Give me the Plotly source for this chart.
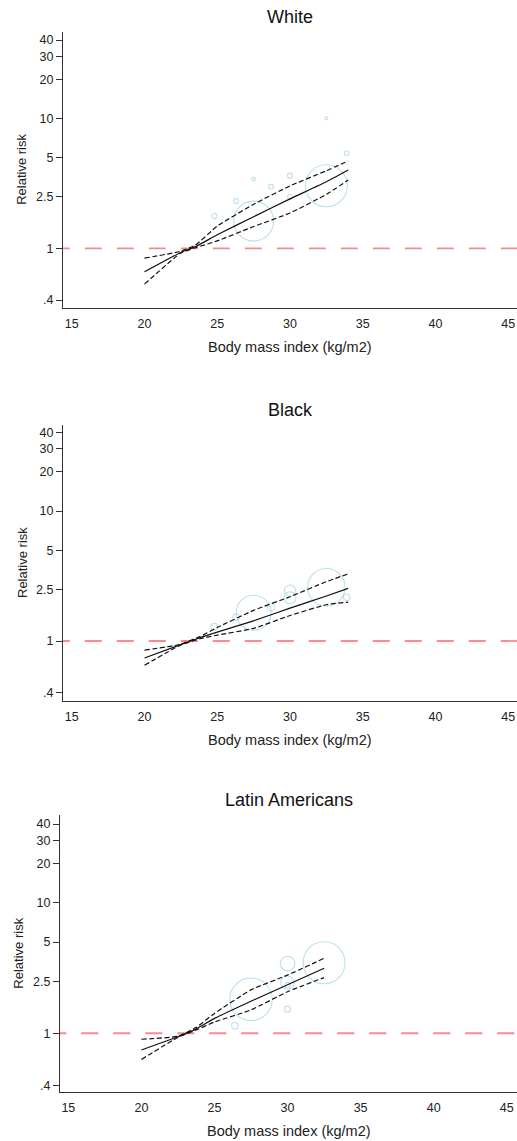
import plotly.graph_objects as go

W, H = 517, 1141
FONT = "Liberation Sans, Arial, sans-serif"

# ---------------- data ----------------
groups = ["White", "Black", "Latin Americans"]

# study-level relative risks (bubbles), with relative weights
white_bmi = [24.8, 26.3, 27.5, 28.7, 30.0, 30.0, 27.5, 32.5, 33.9, 32.5]
white_rr = [1.77, 2.31, 3.41, 2.98, 3.62, 2.49, 1.62, 3.03, 5.38, 10.0]
white_wt = [1.6, 1.6, 0.7, 1.3, 1.6, 1.3, 100, 110, 1.3, 0.6]

black_bmi = [24.8, 26.3, 27.5, 28.7, 30.0, 30.0, 32.5, 33.9]
black_rr = [1.29, 1.52, 1.65, 1.82, 2.44, 2.15, 2.59, 2.17]
black_wt = [2.7, 2.7, 77, 3.4, 8.1, 9.0, 88, 2.7]

latin_bmi = [26.4, 27.5, 30.0, 30.0, 30.0, 30.0, 32.5]
latin_rr = [1.14, 1.82, 3.42, 2.44, 2.34, 1.53, 3.47]
latin_wt = [2.7, 113, 13.3, 11.2, 1.8, 2.25, 110]

# pooled dose-response curve with 95% confidence limits
white_fit_bmi = [20, 22.5, 23.5, 25, 27.5, 30, 32.5, 34]
white_fit = [0.66, 0.93, 1.03, 1.27, 1.75, 2.4, 3.25, 4.0]
white_hi = [0.84, 0.95, 1.06, 1.48, 2.18, 3.02, 3.95, 4.7]
white_lo = [0.53, 0.92, 1.01, 1.14, 1.47, 1.87, 2.6, 3.35]

black_fit_bmi = [20, 22.4, 23.8, 25, 27.5, 30, 32.5, 34]
black_fit = [0.74, 0.93, 1.06, 1.17, 1.43, 1.79, 2.22, 2.54]
black_hi = [0.85, 0.94, 1.08, 1.27, 1.72, 2.19, 2.86, 3.28]
black_lo = [0.65, 0.92, 1.04, 1.11, 1.25, 1.57, 1.9, 1.99]

latin_fit_bmi = [20, 22.5, 23.75, 25, 27.5, 30, 32.5]
latin_fit = [0.745, 0.94, 1.08, 1.3, 1.76, 2.35, 3.15]
latin_hi = [0.90, 0.95, 1.11, 1.42, 2.15, 2.79, 3.75]
latin_lo = [0.63, 0.93, 1.06, 1.22, 1.51, 2.08, 2.67]

y_tickvals = [0.4, 1, 2.5, 5, 10, 20, 30, 40]
y_ticktext = [".4", "1", "2.5", "5", "10", "20", "30", "40"]
x_tickvals = [15, 20, 25, 30, 35, 40, 45]
x_title = "Body mass index (kg/m2)"
y_title = "Relative risk"

panels = [
    dict(name=groups[0], bmi=white_bmi, rr=white_rr, wt=white_wt,
         fx=white_fit_bmi, fy=white_fit, hi=white_hi, lo=white_lo),
    dict(name=groups[1], bmi=black_bmi, rr=black_rr, wt=black_wt,
         fx=black_fit_bmi, fy=black_fit, hi=black_hi, lo=black_lo),
    dict(name=groups[2], bmi=latin_bmi, rr=latin_rr, wt=latin_wt,
         fx=latin_fit_bmi, fy=latin_fit, hi=latin_hi, lo=latin_lo),
]

# ---------------- layout geometry (pixels) ----------------
# left edge of plot area, top and bottom of plot area
geom = [
    dict(left=63, top=31.7, bottom=308, xr=[14.40, 45.6], yr=[-0.459, 1.666]),
    dict(left=63, top=425, bottom=701, xr=[14.40, 45.6], yr=[-0.4615, 1.6615]),
    dict(left=60, top=815, bottom=1092.3, xr=[14.43, 45.7], yr=[-0.452, 1.6715]),
]

BUBBLE = "#a3d3e5"
RED = "rgba(255,40,40,0.55)"

fig = go.Figure()
layout = dict(
    width=W, height=H,
    margin=dict(l=0, r=0, t=0, b=0),
    paper_bgcolor="white", plot_bgcolor="white",
    showlegend=False,
    font=dict(family=FONT, color="#222"),
    annotations=[],
)

for i, (p, g) in enumerate(zip(panels, geom)):
    k = "" if i == 0 else str(i + 1)
    xa, ya = "x" + k, "y" + k

    # reference line at RR = 1
    fig.add_trace(go.Scatter(
        x=[13.7, 46.5], y=[1, 1], xaxis=xa, yaxis=ya, mode="lines",
        line=dict(color=RED, width=1.8, dash="17px,15px"), hoverinfo="skip"))

    # study bubbles, diameter proportional to sqrt(weight)
    sizes = [4.0 * (w ** 0.5) for w in p["wt"]]
    fig.add_trace(go.Scatter(
        x=p["bmi"], y=p["rr"], xaxis=xa, yaxis=ya, mode="markers",
        marker=dict(symbol="circle", size=sizes, color="rgba(0,0,0,0)",
                    line=dict(color=BUBBLE, width=1.1)),
        cliponaxis=False))

    # confidence limits and pooled curve
    for yy, dash in ((p["hi"], "5px,2.6px"), (p["lo"], "5px,2.6px"),
                     (p["fy"], "solid")):
        fig.add_trace(go.Scatter(
            x=p["fx"], y=yy, xaxis=xa, yaxis=ya, mode="lines",
            line=dict(color="#111", width=1.2, dash=dash,
                      shape="spline", smoothing=0.5)))

    x0 = g["left"] / W
    y0 = (H - g["bottom"]) / H
    y1 = (H - g["top"]) / H

    layout["xaxis" + k] = dict(
        domain=[x0, 1], anchor=ya, range=g["xr"],
        tickvals=x_tickvals, ticks="outside", ticklen=4,
        tickcolor="rgba(0,0,0,0)",
        tickfont=dict(size=12.5, family=FONT, color="#222"),
        showline=True, linecolor="#333", linewidth=1,
        showgrid=False, zeroline=False)
    layout["yaxis" + k] = dict(
        domain=[y0, y1], anchor=xa, type="log", range=g["yr"],
        tickvals=y_tickvals, ticktext=y_ticktext,
        ticks="outside", ticklen=6, tickcolor="#333", tickwidth=1,
        tickfont=dict(size=12.5, family=FONT, color="#222"),
        showline=True, linecolor="#333", linewidth=1,
        showgrid=False, zeroline=False)

    cx = (g["left"] + W) / 2
    # panel title
    layout["annotations"].append(dict(
        text=p["name"], x=cx / W, y=(H - (g["top"] - 15)) / H,
        xref="paper", yref="paper", xanchor="center", yanchor="middle",
        showarrow=False, font=dict(size=18, family=FONT, color="#111")))
    # x-axis title
    layout["annotations"].append(dict(
        text=x_title, x=cx / W, y=(H - (g["bottom"] + 38.5)) / H,
        xref="paper", yref="paper", xanchor="center", yanchor="middle",
        showarrow=False, font=dict(size=14.5, family=FONT, color="#222")))
    # y-axis title
    layout["annotations"].append(dict(
        text=y_title, x=(g["left"] - 41) / W,
        y=(H - (g["top"] + g["bottom"]) / 2) / H,
        xref="paper", yref="paper", xanchor="center", yanchor="middle",
        textangle=-90, showarrow=False,
        font=dict(size=13, family=FONT, color="#222")))

fig.update_layout(**layout)
fig.write_html("out.html")
